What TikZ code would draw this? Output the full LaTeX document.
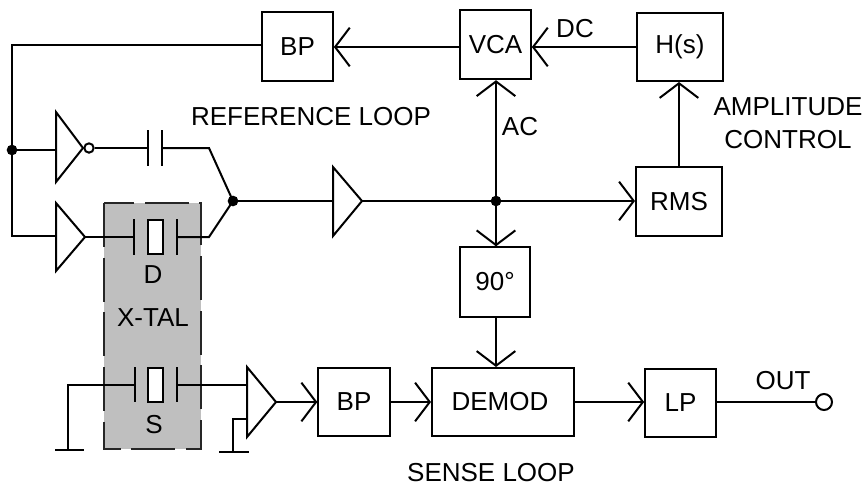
\documentclass[tikz,border=0pt]{standalone}
\usepackage{fontspec}
\setmainfont{Liberation Sans}
\usetikzlibrary{arrows.meta}
\tikzset{
  px/.style={x=0.75pt,y=-0.75pt},
  wire/.style={line width=1.5pt,line join=miter,black},
  arr/.style={wire,-{Straight Barb[length=11pt,width=29pt]}},
  blockbox/.style={draw=black,line width=1.5pt,fill=white,inner sep=0pt,font=\fontsize{19.5}{22}\selectfont},
  lbl/.style={inner sep=0pt,font=\fontsize{19.5}{24.5}\selectfont,text=black},
  dot/.style={circle,fill=black,inner sep=0pt,minimum size=8pt},
  bubble/.style={circle,draw=black,line width=1.5pt,fill=white,inner sep=0pt,minimum size=7pt},
}
\begin{document}
\begin{tikzpicture}[px]
\useasboundingbox (0,0) rectangle (864,486);
\fill[white] (0,0) rectangle (864,486);
% crystal enclosure
\fill[black!25] (104,203) rectangle (201,449);
\draw[line width=1.1pt,dash pattern=on 33pt off 8pt,black!85] (104,203) rectangle (201,449);
% blocks
\node[blockbox,minimum width=53pt,minimum height=52pt] (bpt) at (297.5,46.5) {BP};
\node[blockbox,minimum width=53pt,minimum height=52pt] (vca) at (495.5,44.5) {VCA};
\node[blockbox,minimum width=64.5pt,minimum height=51pt] (hs) at (680,47) {H(s)};
\node[blockbox,minimum width=64.5pt,minimum height=52pt] (rms) at (679,201.5) {RMS};
\node[blockbox,minimum width=53pt,minimum height=52pt] (ninety) at (495,282) {90°};
\node[blockbox,minimum width=53.5pt,minimum height=51pt] (bpb) at (354,402) {BP};
\node[blockbox,minimum width=106.5pt,minimum height=51pt] (demod) at (503,402) {\hspace*{-4.5pt}DEMOD};
\node[blockbox,minimum width=53pt,minimum height=51pt] (lp) at (680.5,402.5) {LP};
% junctions and helpers
\node[dot] (jl) at (12,150) {};
\node[dot] (jm) at (233,201) {};
\node[dot] (jr) at (496,201) {};
\node[bubble] (bub) at (89,148) {};
\node[bubble,minimum size=12pt] (out) at (824,402) {};
\coordinate (tl) at (12,45);
\coordinate (bl) at (12,236);
\coordinate (inva) at (56,150);
\coordinate (bufa) at (56,236);
\coordinate (bufo) at (85,237);
\coordinate (capal) at (148,148);
\coordinate (capar) at (162,148);
\coordinate (upbend) at (209,148);
\coordinate (lowbend) at (209,237);
\coordinate (ampi) at (333,201);
\coordinate (ampo) at (362,201);
\coordinate (xdl) at (134,237);
\coordinate (xdr) at (177,237);
\coordinate (xsl) at (135,385);
\coordinate (xsr) at (177,385);
\coordinate (gl) at (68,385);
\coordinate (gle) at (68,449);
\coordinate (sa) at (247,385);
\coordinate (sb) at (247,419);
\coordinate (sbb) at (233,419);
\coordinate (sbe) at (233,452);
\coordinate (so) at (276,402);
% connectors
\draw[arr] (hs.west |- 0,47) -- (vca.east |- 0,47);
\draw[arr] (vca.west |- 0,47) -- (bpt.east |- 0,47);
\draw[wire] (bpt.west |- 0,45) -- (tl) -- (jl.center) -- (bl) -- (bufa);
\draw[wire] (jl.center) -- (inva);
\draw[wire] (bub) -- (capal);
\draw[wire] (capar) -- (upbend) -- (jm.center) -- (lowbend) -- (xdr);
\draw[wire] (bufo) -- (xdl);
\draw[wire] (jm.center) -- (ampi);
\draw[wire] (ampo) -- (jr.center);
\draw[arr] (jr.center) -- (rms.west |- jr);
\draw[arr] (jr.center) -- (vca.south -| jr);
\draw[arr] (jr.center) -- (ninety.north -| jr);
\draw[arr] (rms.north) -- (hs.south -| rms.north);
\draw[arr] (ninety.south -| jr) -- (demod.north -| jr);
\draw[wire] (gle) -- (gl) -- (xsl);
\draw[wire] (xsr) -- (sa);
\draw[wire] (sb) -- (sbb) -- (sbe);
\draw[arr] (so) -- (bpb.west |- so);
\draw[arr] (bpb.east) -- (demod.west);
\draw[arr] (demod.east) -- (lp.west |- demod.east);
\draw[wire] (lp.east |- out) -- (out.west);
% amplifiers
\draw[wire,fill=white] (56,112) -- (83,148) -- (56,182) -- cycle;
\draw[wire,fill=white] (56,203) -- (85,237) -- (56,271) -- cycle;
\draw[wire,fill=white] (333,167) -- (362,201) -- (333,236) -- cycle;
\draw[wire,fill=white] (247,367) -- (276,402) -- (247,437) -- cycle;
% capacitor
\draw[wire] (148,130) -- (148,166) (162,130) -- (162,166);
% crystals
\draw[wire] (134,219) -- (134,255) (177,219) -- (177,255);
\draw[wire,fill=white] (148,220) rectangle (163,254);
\draw[wire] (135,367) -- (135,402) (177,367) -- (177,402);
\draw[wire,fill=white] (148,368) rectangle (163,402);
% grounds
\draw[wire] (55,449.5) -- (84,449.5);
\draw[wire] (219,452) -- (249,452);
% labels
\node[lbl] (t1) at (153,275) {D};
\node[lbl] (t2) at (153,318) {X-TAL};
\node[lbl] (t3) at (154,425) {S};
\node[lbl] (t4) at (311,117) {REFERENCE LOOP};
\node[lbl,align=center] (t5) at (788,123.5) {AMPLITUDE\\CONTROL};
\node[lbl] (t6) at (520,127) {AC};
\node[lbl] (t7) at (575,29) {DC};
\node[lbl] (t8) at (783,381) {OUT};
\node[lbl] (t9) at (491,473) {SENSE LOOP};
\end{tikzpicture}
\end{document}
